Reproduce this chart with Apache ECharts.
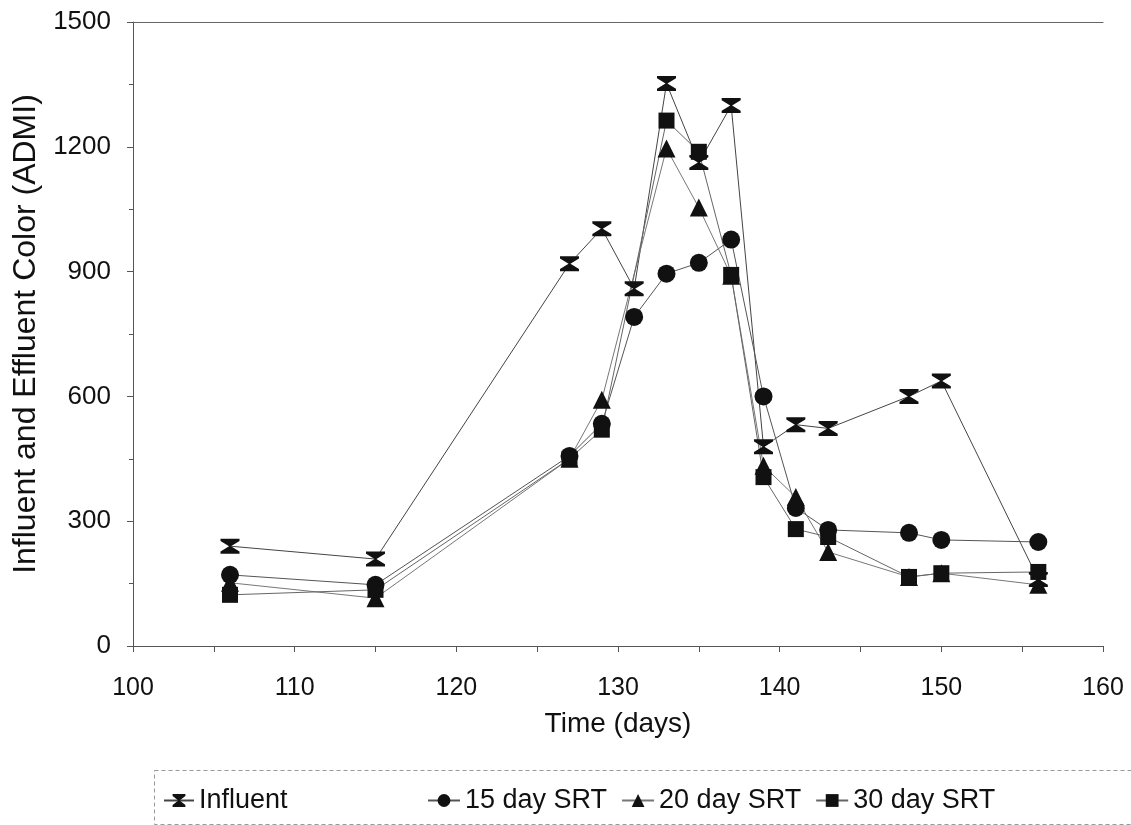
<!DOCTYPE html>
<html>
<head>
<meta charset="utf-8">
<script src="https://cdn.jsdelivr.net/npm/echarts@6/dist/echarts.min.js"></script>
<style>html,body{margin:0;padding:0;background:#fff;}#c{width:1131px;height:825px;}</style>
</head>
<body>
<div id="c"></div>
<script>
// Data
const influentDays = [106, 115, 127, 129, 131, 133, 135, 137, 139, 141, 143, 148, 150, 156];
const influent     = [240, 209, 919, 1003, 859, 1352, 1162, 1299, 479, 532, 523, 600, 637, 160];
const srt15Days    = [106, 115, 127, 129, 131, 133, 135, 137, 139, 141, 143, 148, 150, 156];
const srt15        = [171, 147, 457, 534, 791, 895, 921, 977, 600, 332, 279, 272, 255, 250];
const srt20Days    = [106, 115, 127, 129, 133, 135, 137, 139, 141, 143, 148, 150, 156];
const srt20        = [152, 115, 450, 592, 1196, 1054, 890, 433, 358, 226, 166, 175, 147];
const srt30Days    = [106, 115, 127, 129, 133, 135, 137, 139, 141, 143, 148, 150, 156];
const srt30        = [123, 135, 450, 520, 1263, 1188, 892, 406, 281, 262, 166, 175, 178];

const xTickMin = 100, xTickMax = 160, xTickStep = 10;
const yTickMin = 0, yTickMax = 1500, yTickStep = 300;

const zip = (xs, ys) => xs.map((x, i) => [x, ys[i]]);
const hourglass = 'path://M0,0 L12,0 L12,1.5 L6.6,5 L12,8.5 L12,10 L0,10 L0,8.5 L5.4,5 L0,1.5 Z';
const FONT = '"Liberation Sans", Arial, sans-serif';
const ink = '#111';

function mk(name, xs, ys, symbol, size, lineColor, lineType) {
  return {
    name, type: 'line', data: zip(xs, ys), symbol, symbolSize: size,
    itemStyle: { color: ink },
    lineStyle: { color: lineColor, width: 1, type: lineType },
    emphasis: { disabled: true }, animation: false
  };
}

const chart = echarts.init(document.getElementById('c'));
chart.setOption({
  backgroundColor: '#fff',
  textStyle: { fontFamily: FONT, color: ink },
  grid: { left: 133, right: 28, top: 22, bottom: 179 },
  xAxis: [{
    type: 'value', min: xTickMin, max: xTickMax, interval: xTickStep,
    name: 'Time (days)', nameLocation: 'middle', nameGap: 64,
    nameTextStyle: { fontSize: 28, color: ink, fontFamily: FONT },
    axisLine: { show: true, lineStyle: { color: '#555', width: 1 } },
    axisTick: { show: true, length: 6, lineStyle: { color: '#555' } },
    minorTick: { show: true, splitNumber: 2, length: 6, lineStyle: { color: '#555' } },
    axisLabel: { fontSize: 25, color: ink, margin: 30, fontFamily: FONT },
    splitLine: { show: false }
  }, {
    type: 'value', position: 'top', min: xTickMin, max: xTickMax,
    axisLine: { show: true, lineStyle: { color: '#666', width: 1 } },
    axisTick: { show: false }, axisLabel: { show: false }, splitLine: { show: false }
  }],
  yAxis: {
    type: 'value', min: yTickMin, max: yTickMax, interval: yTickStep,
    name: 'Influent and Effluent Color (ADMI)', nameLocation: 'middle', nameGap: 82,
    nameTextStyle: { fontSize: 32, color: ink, fontFamily: FONT },
    axisLine: { show: true, lineStyle: { color: '#555', width: 1 } },
    axisTick: { show: true, length: 6, lineStyle: { color: '#555' } },
    minorTick: { show: true, splitNumber: 2, length: 4, lineStyle: { color: '#555' } },
    axisLabel: { fontSize: 26, color: ink, margin: 22, fontFamily: FONT, formatter: v => String(v) },
    splitLine: { show: false }
  },
  legend: [{
    data: ['Influent'], left: 158, top: 782, itemWidth: 30, itemHeight: 16,
    textStyle: { fontSize: 27, color: ink, fontFamily: FONT }
  }, {
    data: ['15 day SRT', '20 day SRT', '30 day SRT'], left: 422, top: 782,
    itemWidth: 32, itemHeight: 16, itemGap: 14,
    textStyle: { fontSize: 27, color: ink, fontFamily: FONT }
  }],
  graphic: [{
    type: 'rect', left: 152, top: 768, shape: { width: 1000, height: 54 },
    style: { fill: 'none', stroke: '#999', lineWidth: 1, lineDash: [4, 3] }, silent: true
  }],
  series: [
    mk('Influent', influentDays, influent, hourglass, [19, 15], '#444', 'solid'),
    mk('15 day SRT', srt15Days, srt15, 'circle', 18, '#555', 'solid'),
    mk('20 day SRT', srt20Days, srt20, 'triangle', 18, '#777', 'solid'),
    mk('30 day SRT', srt30Days, srt30, 'rect', 16, '#666', 'solid')
  ]
});
</script>
</body>
</html>
